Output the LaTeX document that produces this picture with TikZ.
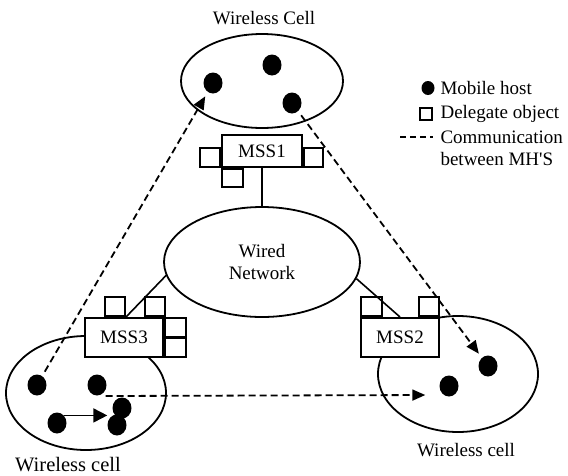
\documentclass[tikz,border=0pt]{standalone}
\usepackage{fontspec}
\setmainfont{Liberation Serif}
\usetikzlibrary{arrows.meta,positioning,shapes.geometric,calc}

\begin{document}
\begin{tikzpicture}[x=1pt, y=-1pt,
  every node/.style={font=\fontsize{19}{22}\selectfont},
  cell/.style={draw, line width=1.8pt, ellipse, inner sep=0pt, minimum width=160pt, minimum height=114pt},
  host/.style={fill, ellipse, inner sep=0pt, minimum width=19pt, minimum height=21pt},
  mss/.style={draw, line width=2pt, fill=white, minimum width=78pt, minimum height=39pt, inner sep=0pt},
  deleg/.style={draw, line width=2pt, fill=white, minimum width=20pt, minimum height=19pt, inner sep=0pt},
  link/.style={line width=1.6pt},
  comm/.style={line width=1.8pt, dash pattern=on 7pt off 4pt, -{Triangle[length=13pt,width=11pt]}, shorten <=5pt, shorten >=5pt}
]
\useasboundingbox (0,0) rectangle (568,475);

% cells and the wired network
\node[cell, minimum width=162pt, minimum height=94pt] (cellA) at (262,81) {};
\node[cell, minimum width=196pt, minimum height=110pt, align=center] (net) at (262,262) {Wired\\Network};
\node[cell] (cellC) at (86,393) {};
\node[cell, minimum height=116pt] (cellB) at (458,374) {};

\node (labA) at (264,18) {Wireless Cell};
\node[font=\fontsize{20.5}{24}\selectfont] (labC) at (68,465) {Wireless cell};
\node (labB) at (466,450) {Wireless cell};

% support stations
\node[mss, minimum width=80pt, minimum height=32pt] (m1) at (262,151) {MSS1};
\node[mss] (m3) at (124,337.5) {MSS3};
\node[mss] (m2) at (400,337.5) {MSS2};

% delegate objects
\node[deleg, anchor=south east] (d1a) at (m1.south west) {};
\node[deleg, anchor=south west, minimum width=19pt] (d1b) at (m1.south east) {};
\node[deleg, anchor=north west, minimum width=21pt, minimum height=18pt] (d1c) at (m1.south west) {};

\node[deleg, anchor=south west] (d3a) at ($(m3.north west)+(20,0)$) {};
\node[deleg, anchor=south east] (d3b) at ($(m3.north east)+(2,0)$) {};
\node[deleg, anchor=north west, minimum width=21pt] (d3c) at (m3.north east) {};
\node[deleg, anchor=south west, minimum width=21pt] (d3d) at (m3.south east) {};

\node[deleg, anchor=south west, minimum width=21pt] (d2a) at (m2.north west) {};
\node[deleg, anchor=south east] (d2b) at (m2.north east) {};

\draw[link] (m1) -- (net);
\draw[link] (net.188) -- (d3a.south east);
\draw[link] (net.-10) -- (m2.north);

% mobile hosts
\node[host] (hA1) at (213,83) {};
\node[host] (hA2) at (272,65) {};
\node[host] (hA3) at (292,103) {};

\node[host] (hC1) at (37,385) {};
\node[host] (hC2) at (97,385) {};
\node[host] (hC3) at (57,423) {};
\node[host] (hC4) at (122,408) {};
\node[host] (hC5) at (117,425) {};

\node[host] (hB1) at (488,366) {};
\node[host] (hB2) at (449,386) {};

% communication between hosts
\draw[comm] (hC1) -- (hA1);
\draw[comm] (hA3) -- (hB1);
\draw[comm, shorten <=0pt] ($(hC2.east)+(-1,11)$) -- ($(hB2.west)+(-9,9)$);
\draw[line width=1.8pt, -{Triangle[length=14pt,width=14pt]}, shorten >=5pt] (hC3.north east) -- (hC3.north east -| hC4.west);

% legend
\node[host, minimum width=13pt, minimum height=14pt] (kHost) at (428,88) {};
\node[anchor=west] (tHost) at (437,88) {Mobile host};
\node[draw, line width=1.6pt, inner sep=0pt, minimum size=12pt] (kDeleg) at (426,114) {};
\node[anchor=west] (tDeleg) at (437,114) {Delegate object};
\coordinate (kCommA) at (400,137);
\coordinate (kCommB) at (433,137);
\draw[line width=1.6pt, dash pattern=on 6pt off 4pt] (kCommA) -- (kCommB);
\node[anchor=west] (tComm) at (437,137) {Communication};
\node[anchor=west] (tComm2) at (437,159) {between MH\textquotesingle S};
\end{tikzpicture}
\end{document}
